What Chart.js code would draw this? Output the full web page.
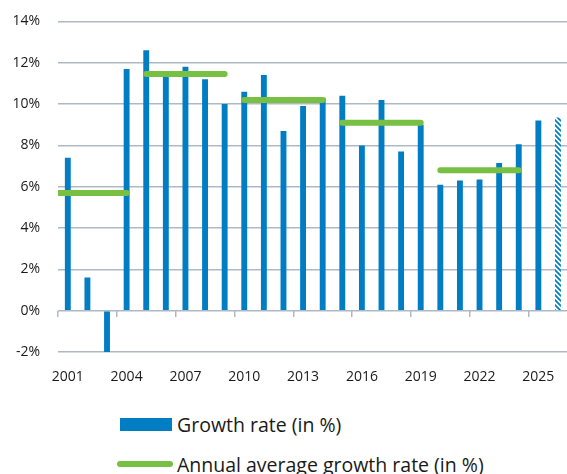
<!DOCTYPE html>
<html><head><meta charset="utf-8">
<script src="https://cdn.jsdelivr.net/npm/chart.js@4.4.1/dist/chart.umd.min.js"></script>
<style>
html,body{margin:0;padding:0;background:#fff;overflow:hidden;width:567px;height:474px;}
#wrap{position:absolute;left:0;top:-5px;width:575px;height:405px;}
.leg{position:absolute;left:117px;font-family:"Open Sans",sans-serif;font-size:19.5px;color:#1a1a1a;display:flex;align-items:center;white-space:nowrap;height:24px;}
.sw1{display:inline-block;width:52px;height:13px;background:#007DC3;margin-left:3px;margin-right:5px;}
.sw2{display:inline-block;width:56px;height:6px;border-radius:3px;background:#77C043;margin-right:4px;}
</style></head><body>
<div id="wrap"><canvas id="c"></canvas></div>
<div class="leg" style="top:412px;"><span class="sw1"></span><span>Growth rate (in %)</span></div>
<div class="leg" style="top:452px;"><span class="sw2"></span><span>Annual average growth rate (in %)</span></div>
<script>
const years = [2001,2002,2003,2004,2005,2006,2007,2008,2009,2010,2011,2012,2013,2014,2015,2016,2017,2018,2019,2020,2021,2022,2023,2024,2025,2026];
const growth = [7.4,1.6,-2.1,11.7,12.6,11.35,11.8,11.2,10.0,10.6,11.4,8.7,9.9,10.3,10.4,8.0,10.2,7.7,9.0,6.1,6.3,6.35,7.15,8.05,9.2,9.35];
const forecastYears = [2026];
const periodStart = [2000,2005,2010,2015,2020];
const periodEnd = [2004,2009,2014,2019,2024];
const periodAvg = [5.7,11.45,10.2,9.1,6.8];
const tickYears = [2001,2004,2007,2010,2013,2016,2019,2022,2025];
const yTicks = [-2,0,2,4,6,8,10,12,14];

const BLUE = '#007DC3', GREEN = '#77C043', GRID = '#aeb9c3', TXT = '#1a1a1a';
const FONT = '"Open Sans", sans-serif';

// hatch pattern for forecast bar
const pc = document.createElement('canvas');
pc.width = 5; pc.height = 5;
const px = pc.getContext('2d');
px.fillStyle = '#fff'; px.fillRect(0,0,5,5);
px.strokeStyle = BLUE; px.lineWidth = 1.8;
px.beginPath(); px.moveTo(-1,-1); px.lineTo(6,6); px.moveTo(-1,4); px.lineTo(1,6); px.moveTo(4,-1); px.lineTo(6,1); px.stroke();
const hatch = px.createPattern(pc,'repeat');

const lineData = [];
periodStart.forEach((s,i)=>{
  lineData.push({x:s, y:periodAvg[i]});
  lineData.push({x:periodEnd[i], y:periodAvg[i]});
  lineData.push({x:periodEnd[i]+0.5, y:null});
});

new Chart(document.getElementById('c'), {
  type:'bar',
  data:{
    labels: years.map(String),
    datasets:[
      {type:'line', label:'Annual average growth rate (in %)', data:lineData, xAxisID:'xl', yAxisID:'y',
       borderColor:GREEN, borderWidth:6, borderCapStyle:'round', pointRadius:0, spanGaps:false, clip:0, order:0},
      {type:'bar', label:'Growth rate (in %)', data:growth, xAxisID:'x', yAxisID:'y', grouped:false,
       backgroundColor:(ctx)=> forecastYears.includes(years[ctx.dataIndex]) ? hatch : BLUE,
       borderWidth:0, categoryPercentage:1, barPercentage:0.3, order:1}
    ]
  },
  options:{
    responsive:true, maintainAspectRatio:false, animation:false,
    layout:{padding:{top:15,right:2,bottom:0,left:0}},
    plugins:{legend:{display:false}, tooltip:{enabled:false}},
    scales:{
      x:{type:'category', position:'bottom', offset:true,
         grid:{display:false, drawTicks:false, offset:true}, border:{display:false},
         ticks:{autoSkip:false, maxRotation:0, padding:17, color:TXT, font:{family:FONT,size:14},
                callback:function(v,i){ const yv = years[i]; return tickYears.includes(yv) ? String(yv) : ''; }},
         afterFit:(s)=>{ s.height = 48; }},
      xl:{type:'linear', axis:'x', position:{y:0}, offset:false, min:years[0]-0.5, max:years[years.length-1]+0.5,
          ticks:{display:false},
          grid:{offset:false, drawOnChartArea:false, drawTicks:true, tickLength:6, color:GRID, lineWidth:1.5},
          border:{display:false},
          afterBuildTicks:(axis)=>{ axis.ticks = tickYears.map(y=>({value:y-0.5})); },
          afterFit:(s)=>{ s.height = 0; }},
      y:{type:'linear', min:-2, max:14,
         grid:{color:GRID, lineWidth:1.5, drawTicks:false}, border:{display:false},
         ticks:{stepSize:2, padding:18, color:TXT, font:{family:FONT,size:14},
                callback:(v)=> yTicks.includes(v) ? v + '%' : ''},
         afterFit:(s)=>{ s.width = 58; }}
    }
  }
});
</script>
</body></html>
